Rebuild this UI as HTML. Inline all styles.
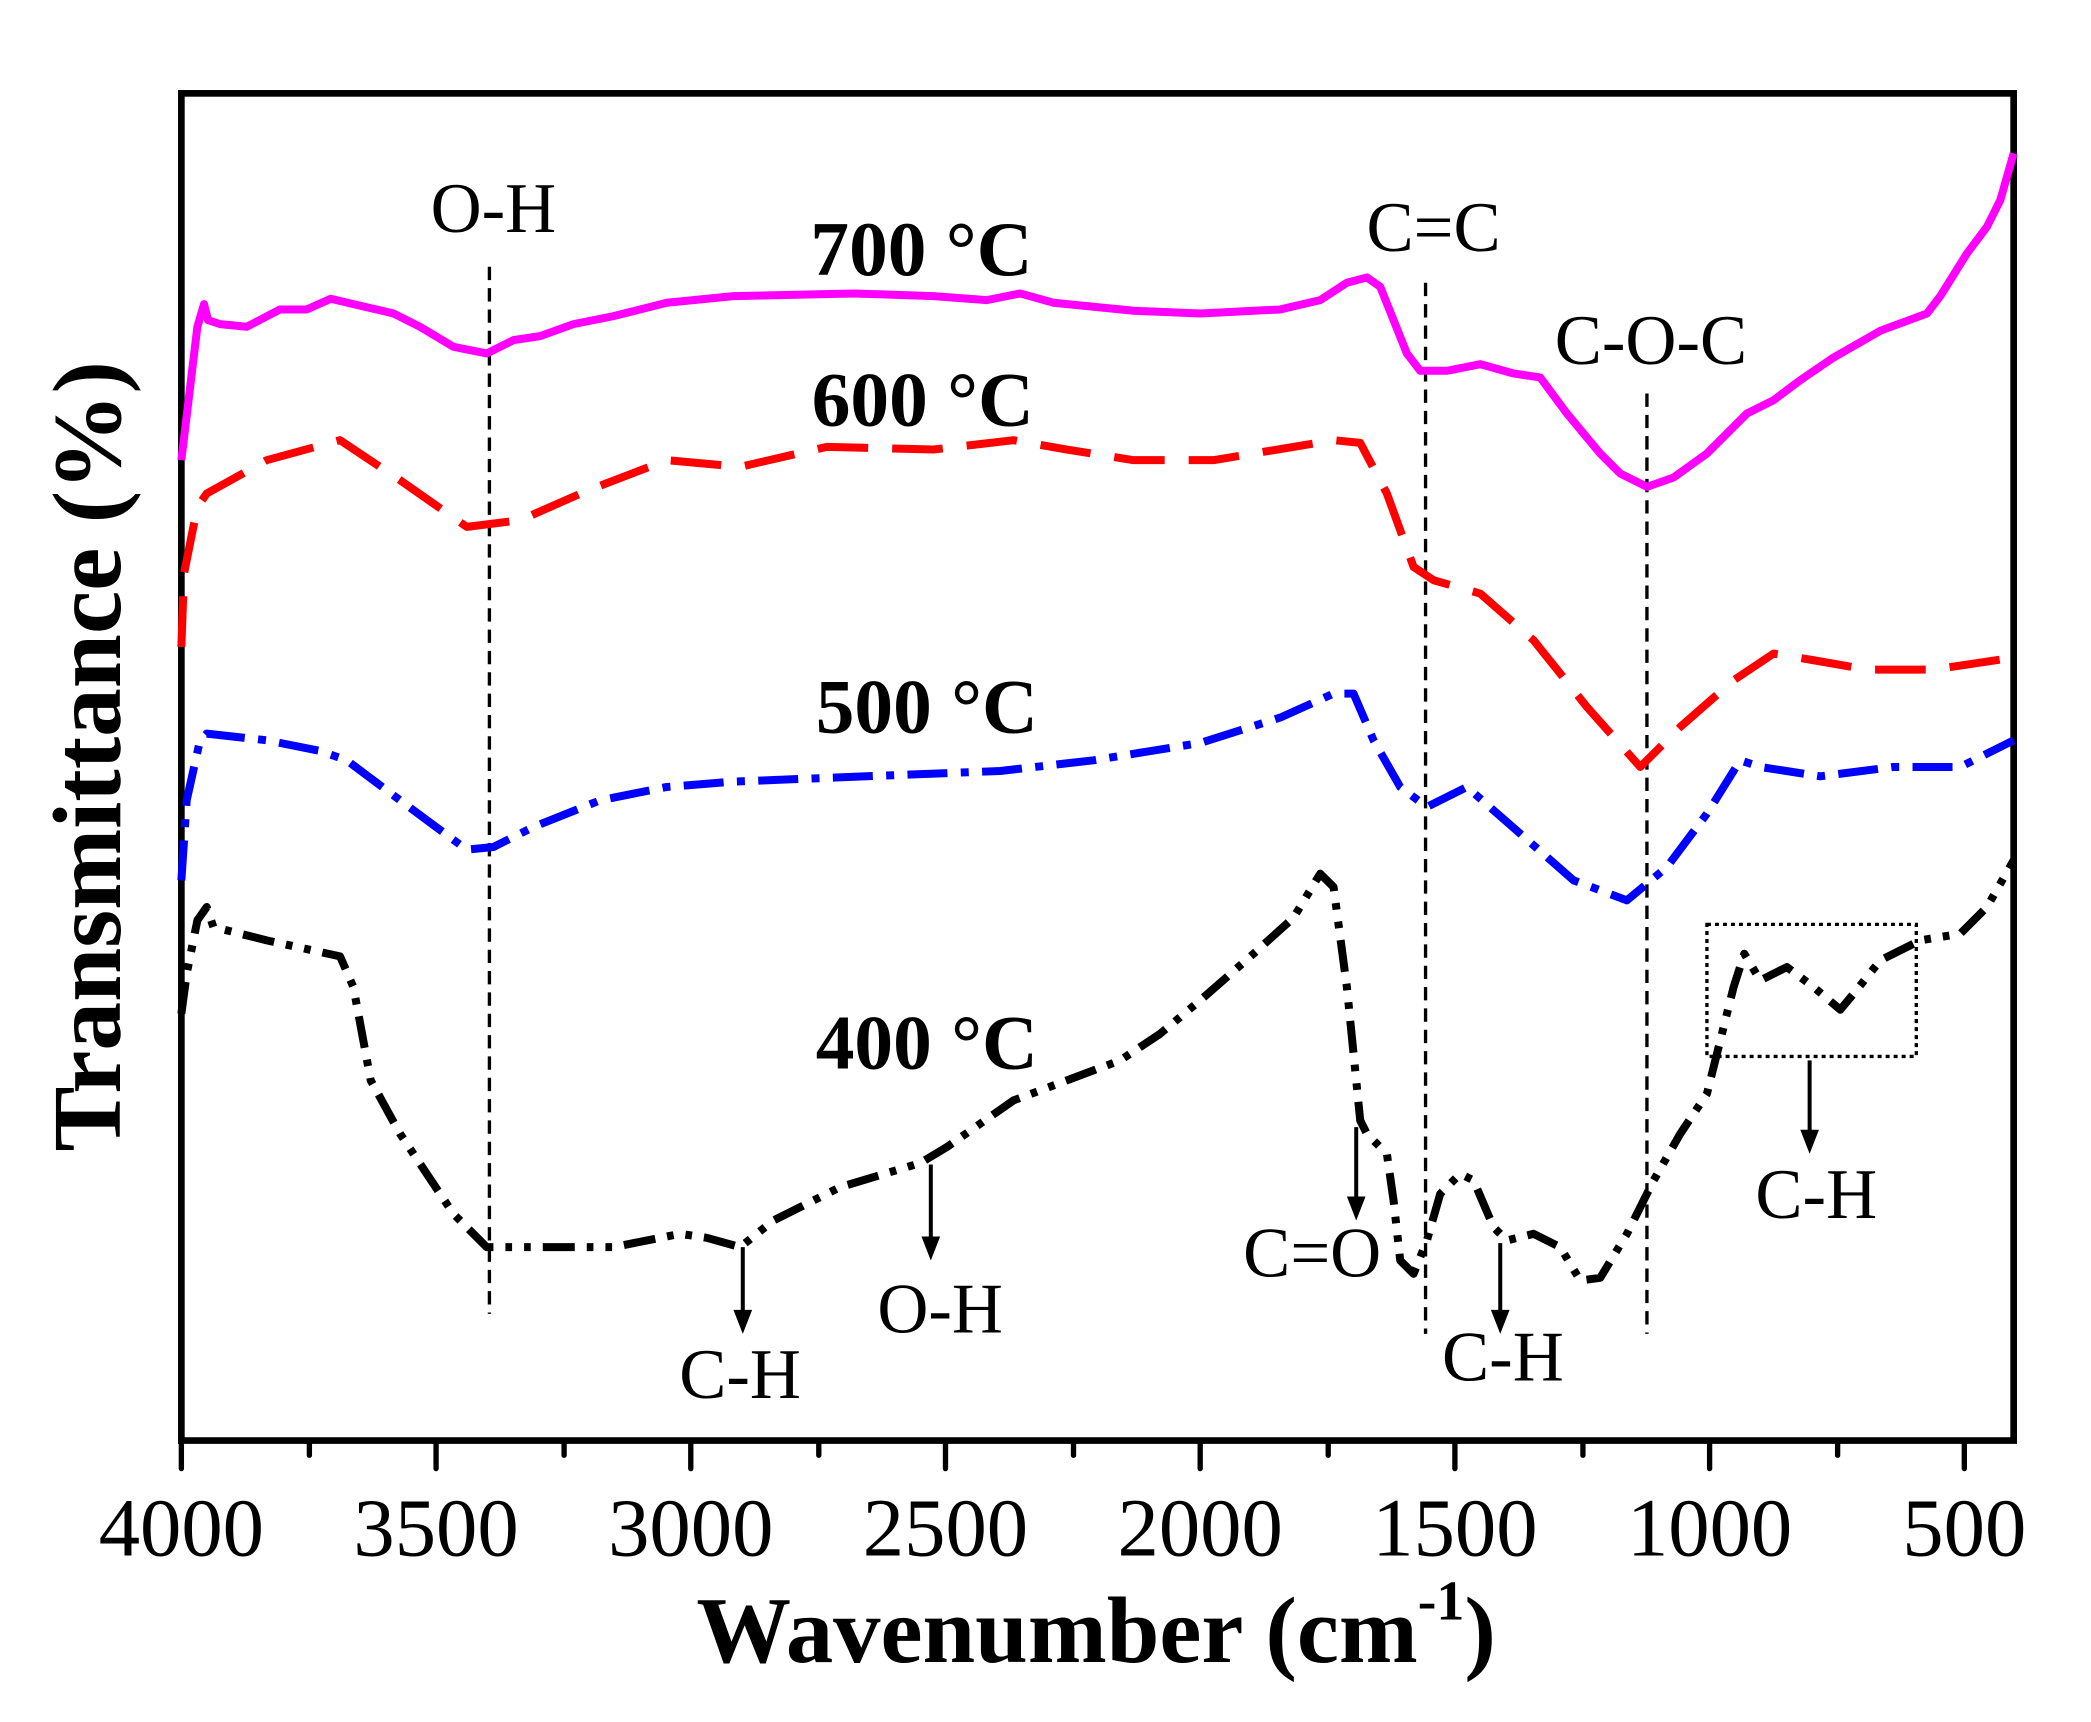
<!DOCTYPE html>
<html><head><style>html,body{margin:0;padding:0;background:#fff}svg{display:block}</style></head>
<body>
<svg width="2091" height="1722" viewBox="0 0 1568 1291" preserveAspectRatio="none" xmlns="http://www.w3.org/2000/svg" font-family="'Liberation Serif',serif">
<rect x="136" y="70" width="1374" height="1010" fill="none" stroke="#000" stroke-width="5"/>
<g stroke="#000" stroke-width="4" stroke-linecap="round">
<line x1="136" y1="1080" x2="136" y2="1101"/><line x1="232" y1="1080" x2="232" y2="1091"/>
<line x1="327" y1="1080" x2="327" y2="1101"/><line x1="423" y1="1080" x2="423" y2="1091"/>
<line x1="518" y1="1080" x2="518" y2="1101"/><line x1="614" y1="1080" x2="614" y2="1091"/>
<line x1="709" y1="1080" x2="709" y2="1101"/><line x1="805" y1="1080" x2="805" y2="1091"/>
<line x1="900" y1="1080" x2="900" y2="1101"/><line x1="996" y1="1080" x2="996" y2="1091"/>
<line x1="1091" y1="1080" x2="1091" y2="1101"/><line x1="1187" y1="1080" x2="1187" y2="1091"/>
<line x1="1282" y1="1080" x2="1282" y2="1101"/><line x1="1378" y1="1080" x2="1378" y2="1091"/>
<line x1="1473" y1="1080" x2="1473" y2="1101"/>
</g>
<g font-size="62" text-anchor="middle">
<text x="136" y="1166">4000</text><text x="327" y="1166">3500</text><text x="518" y="1166">3000</text>
<text x="709" y="1166">2500</text><text x="900" y="1166">2000</text><text x="1091" y="1166">1500</text>
<text x="1282" y="1166">1000</text><text x="1473" y="1166">500</text>
</g>
<text x="822" y="1246" font-size="71" font-weight="bold" text-anchor="middle">Wavenumber (cm<tspan font-size="42" dy="-32">-1</tspan><tspan dy="32">)</tspan></text>
<text transform="translate(90,567) rotate(-90)" font-size="73" font-weight="bold" text-anchor="middle">Transmittance (%)</text>
<g stroke="#000" stroke-width="2.5" stroke-dasharray="10,6">
<line x1="367" y1="200" x2="367" y2="985"/><line x1="1069" y1="212" x2="1069" y2="1000"/><line x1="1235" y1="295" x2="1235" y2="1000"/>
</g>
<rect x="1280" y="693" width="157" height="99" fill="none" stroke="#000" stroke-width="2.5" stroke-dasharray="3,3"/>
<g fill="none" stroke-linejoin="round" stroke-width="6">
<polyline stroke="#f0f" points="136,345 148,245 153,228 156,240 165,243 185,245 210,232 230,232 248,224 265,228 295,235 315,245 340,260 365,265 385,255 405,252 430,243 460,237 500,227 550,222 640,220 700,222 740,225 765,220 790,227 850,233 900,235 960,232 990,225 1010,212 1025,208 1035,215 1045,240 1055,265 1065,278 1085,278 1110,273 1135,280 1155,283 1175,310 1200,340 1215,355 1235,365 1255,358 1280,340 1310,310 1330,300 1350,285 1375,268 1410,248 1445,235 1455,222 1475,190 1490,170 1500,150 1510,115"/>
<polyline stroke="#f00" stroke-dasharray="38,18" points="136,485 138,430 148,380 155,370 200,345 255,330 300,360 350,395 390,390 440,368 500,345 555,350 620,335 700,337 760,330 800,337 850,345 910,345 1000,330 1020,332 1040,370 1060,425 1075,435 1110,445 1150,480 1190,530 1230,575 1260,545 1300,510 1330,490 1360,495 1400,502 1450,502 1510,493"/>
<polyline stroke="#00f" stroke-dasharray="30,10,6,10" points="136,660 140,600 150,555 155,550 200,555 240,563 260,570 300,600 350,637 370,635 400,620 450,600 500,590 550,586 650,582 750,578 820,570 900,557 960,538 1000,520 1015,520 1030,555 1050,590 1070,605 1100,590 1140,625 1180,660 1220,675 1250,650 1280,610 1305,570 1320,575 1365,582 1420,575 1470,575 1510,555"/>
<polyline stroke="#000" stroke-dasharray="24,9,5,9,5,9" points="136,760 140,730 148,690 155,680 160,695 200,705 255,717 265,740 278,810 300,850 340,910 365,935 400,935 460,935 510,925 530,928 555,935 580,915 630,890 690,872 710,860 760,825 800,810 840,795 870,775 900,750 940,715 970,688 990,655 1000,665 1010,740 1020,840 1025,850 1040,865 1045,900 1050,945 1060,955 1070,930 1080,895 1095,880 1105,885 1120,920 1130,930 1150,925 1170,935 1185,960 1200,958 1220,925 1240,885 1260,850 1280,820 1300,740 1308,715 1320,735 1340,725 1360,740 1380,757 1390,745 1410,720 1440,705 1470,700 1490,680 1510,645"/>
</g>
<g stroke="#000" stroke-width="3">
<line x1="557" y1="935" x2="557" y2="985"/><line x1="698" y1="873" x2="698" y2="930"/>
<line x1="1017" y1="845" x2="1017" y2="900"/><line x1="1125" y1="932" x2="1125" y2="985"/>
<line x1="1357" y1="795" x2="1357" y2="850"/>
</g>
<g fill="#000">
<polygon points="550,982 564,982 557,1000"/><polygon points="691,927 705,927 698,945"/>
<polygon points="1010,897 1024,897 1017,915"/><polygon points="1118,982 1132,982 1125,1000"/>
<polygon points="1350,847 1364,847 1357,865"/>
</g>
<g font-size="53" text-anchor="middle">
<text x="370" y="174">O-H</text><text x="1075" y="188">C=C</text><text x="1238" y="273">C-O-C</text>
<text x="555" y="1048">C-H</text><text x="705" y="999">O-H</text><text x="984" y="957">C=O</text>
<text x="1127" y="1035">C-H</text><text x="1362" y="913">C-H</text>
</g>
<g font-size="58" font-weight="bold" text-anchor="middle">
<text x="691" y="206">700 °C</text><text x="692" y="319">600 °C</text>
<text x="695" y="549">500 °C</text><text x="695" y="801">400 °C</text>
</g>
</svg>
</body></html>
